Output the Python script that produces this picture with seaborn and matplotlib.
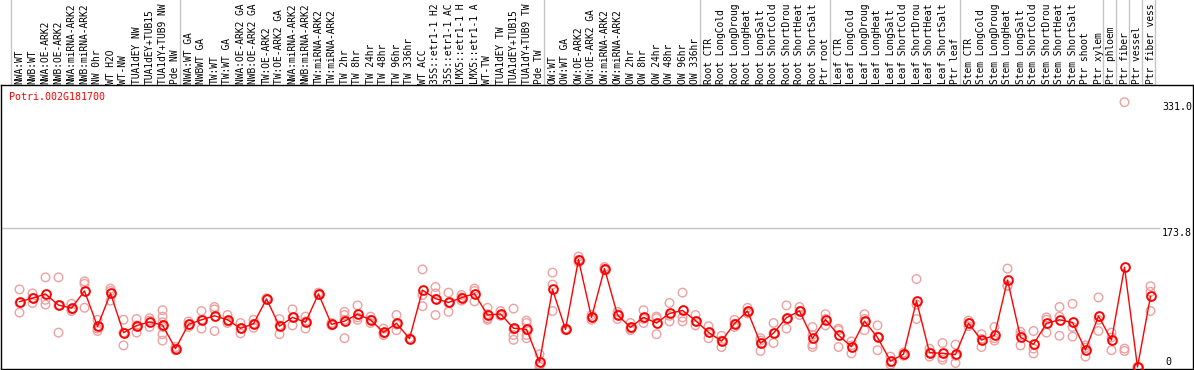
import numpy as np
import pandas as pd
import matplotlib
matplotlib.use("Agg")
import matplotlib.pyplot as plt
import matplotlib.transforms as mtransforms
from matplotlib.lines import Line2D
import seaborn as sns

gene_id = "Potri.002G181700"

sample_labels = [
    "NWA:WT", "NWB:WT", "NWA:OE-ARK2", "NWB:OE-ARK2", "NWA:miRNA-ARK2", "NWB:miRNA-ARK2",
    "NW 0hr", "WT H2O", "WT-NW", "TUA1dEY NW", "TUA1dEY+TUB15 NW", "TUA1dY+TUB9 NW", "Pde NW",
    "NWA:WT GA", "NWBWT GA", "TW:WT", "TW:WT GA", "NWA:OE-ARK2 GA", "NWB:OE-ARK2 GA",
    "TW:OE-ARK2", "TW:OE-ARK2 GA", "NWA:miRNA-ARK2", "NWB:miRNA-ARK2", "TW:miRNA-ARK2",
    "TW:miRNA-ARK2", "TW 2hr", "TW 8hr", "TW 24hr", "TW 48hr", "TW 96hr", "TW 336hr",
    "WT ACC", "35S::etr1-1 H2O", "35S::etr1-1 ACC", "LMX5::etr1-1 H2O", "LMX5::etr1-1 ACC",
    "WT-TW", "TUA1dEY TW", "TUA1dEY+TUB15 TW", "TUA1dY+TUB9 TW", "Pde TW",
    "OW:WT", "OW:WT GA", "OW:OE-ARK2", "OW:OE-ARK2 GA", "OW:miRNA-ARK2", "OW:miRNA-ARK2",
    "OW 2hr", "OW 8hr", "OW 24hr", "OW 48hr", "OW 96hr", "OW 336hr",
    "Root CTR", "Root LongCold", "Root LongDrought", "Root LongHeat", "Root LongSalt",
    "Root ShortCold", "Root ShortDrought", "Root ShortHeat", "Root ShortSalt", "Ptr root",
    "Leaf CTR", "Leaf LongCold", "Leaf LongDrought", "Leaf LongHeat", "Leaf LongSalt",
    "Leaf ShortCold", "Leaf ShortDrought", "Leaf ShortHeat", "Leaf ShortSalt", "Ptr leaf",
    "Stem CTR", "Stem LongCold", "Stem LongDrought", "Stem LongHeat", "Stem LongSalt",
    "Stem ShortCold", "Stem ShortDrought", "Stem ShortHeat", "Stem ShortSalt", "Ptr shoot",
    "Ptr xylem", "Ptr phloem", "Ptr fiber", "Ptr vessel", "Ptr fiber vessel",
]

group_sizes = [13, 28, 12, 10, 10, 11, 1, 1, 1, 1]

replicates = [
    [97, 80, 68], [92, 86, 80], [112, 84, 78], [112, 77, 43], [79, 72, 70], [107, 104, 74],
    [59, 48, 45], [98, 95, 83], [59, 43, 27], [60, 52, 43], [61, 58, 50],
    [71, 63, 56, 50, 41, 33], [25, 21, 23],
    [57, 53, 50], [70, 59, 48], [75, 72, 45], [65, 55, 57], [55, 42, 48], [59, 49, 54],
    [86, 84, 85], [60, 41, 52], [72, 52, 62], [63, 48, 57], [93, 90, 91], [55, 52, 53],
    [69, 65, 59, 36], [77, 62, 59], [63, 55, 59], [48, 40, 42], [65, 46, 53], [36, 35],
    [122, 90, 76], [100, 92, 85, 65], [93, 80, 69], [90, 87, 83], [98, 95, 82],
    [74, 61, 59, 66], [70, 65, 64], [73, 40, 34, 47], [58, 55, 46, 40, 36], [16, 3, 0],
    [118, 103, 70], [48, 46], [138, 134, 131], [65, 59, 62], [125, 123, 121], [69, 60, 66],
    [55, 46, 48], [71, 55, 60], [63, 61, 41], [80, 57, 64], [93, 62, 57], [65, 52, 57],
    [51, 36, 43], [39, 25, 33], [59, 50, 54], [74, 67, 69], [36, 20, 33], [55, 30, 42],
    [77, 48, 60], [75, 65, 70], [50, 28, 25, 40], [66, 52, 60],
    [48, 46, 25], [32, 17, 27], [66, 46, 60], [52, 21, 38], [13, 3, 6], [18, 14, 16],
    [110, 78, 60], [23, 13, 18], [30, 9, 12], [28, 5, 14],
    [58, 51, 55], [41, 25, 35], [50, 33, 36], [123, 101, 102], [44, 27, 40], [45, 17, 23],
    [62, 43, 59], [75, 63, 39], [79, 50, 38], [27, 13, 24], [87, 45, 59],
    [43, 21, 37], [331, 23, 20], [0, 0], [101, 94, 70],
]

axis_ticks = [331.0, 173.8, 0]

# header shows at most 14 characters of each sample name
label_chars = 14

# ---------------- build long table ----------------
rows = []
for i, (lab, reps) in enumerate(zip(sample_labels, replicates)):
    for v in reps:
        rows.append({"pos": i, "sample": lab, "value": v})
df = pd.DataFrame(rows)

W, H = 1194, 370
fig = plt.figure(figsize=(W / 100, H / 100), dpi=100)
ax = fig.add_axes([1 / W, (H - 369) / H, (1193 - 1) / W, (369 - 85) / H])

# data-unit geometry: one column of 13 px, first centre at pixel 19.5
col = 13.0
x0 = 19.5
ax.set_xlim((1 - x0) / col, (1193 - x0) / col)
ax.set_ylim(-2.5, (367 - 85) / 0.8)

gray = "#c4c4c4"
pink = "#eea0a0"

# separator lines between groups (extend through label area)
trans_sep = mtransforms.blended_transform_factory(ax.transData, fig.transFigure)
bounds = np.concatenate([[0], np.cumsum(group_sizes)])
sep_offset = (x0 - 10.5) / col
for b in bounds:
    xs = b - sep_offset
    fig.add_artist(Line2D([xs, xs], [(H - 369) / H, 1.0], transform=trans_sep,
                          color=gray, linewidth=1.0, zorder=0))

# horizontal grid line at middle tick
ax.hlines(axis_ticks[1], (1 - x0) / col, (1160 - x0) / col, color=gray, linewidth=1.0, zorder=0)

# replicates
sns.scatterplot(data=df, x="pos", y="value", ax=ax, s=38, marker="o", legend=False, zorder=2)
coll = ax.collections[-1]
coll.set_facecolor("none")
coll.set_edgecolor(pink)
coll.set_linewidth(1.0)

# means
sns.lineplot(data=df, x="pos", y="value", ax=ax, estimator="mean", errorbar=None,
             color="#ff0000", linewidth=1.0, marker="o", markersize=6.3,
             markerfacecolor="none", markeredgecolor="#ff0000", markeredgewidth=1.4,
             zorder=3)

ax.set_xlabel("")
ax.set_ylabel("")
ax.set_xticks([])
ax.set_yticks([])
for sp in ax.spines.values():
    sp.set_color("black")
    sp.set_linewidth(1.0)
ax.set_facecolor("white")
fig.patch.set_facecolor("white")

mono = "DejaVu Sans Mono"
fs = 7.2

# tick labels on the right, inside the frame
trans_r = mtransforms.blended_transform_factory(ax.transAxes, ax.transData)
xr = (1162 - 1) / (1193 - 1)
ax.text(xr, axis_ticks[0], "331.0", transform=trans_r, ha="left", va="top",
        fontsize=fs, family=mono, color="black")
ax.text(xr, axis_ticks[1], "173.8", transform=trans_r, ha="left", va="top",
        fontsize=fs, family=mono, color="black")
ax.text((1165 - 1) / (1193 - 1), axis_ticks[2], "0", transform=trans_r, ha="left", va="bottom",
        fontsize=fs, family=mono, color="black")

# gene id
fig.text(9 / W, 1 - 97 / H, gene_id, ha="left", va="center", fontsize=fs, family=mono,
         color="#ff0000")

# rotated sample labels in header
trans_lab = mtransforms.blended_transform_factory(ax.transData, fig.transFigure)
for i, lab in enumerate(sample_labels):
    ax.text(i, 1 - 83.5 / H, lab[:label_chars].rstrip(), transform=trans_lab, rotation=90,
            ha="center", va="bottom", fontsize=6.95, family=mono, color="black",
            clip_on=False)

fig.savefig("out.png", dpi=100, facecolor="white")
